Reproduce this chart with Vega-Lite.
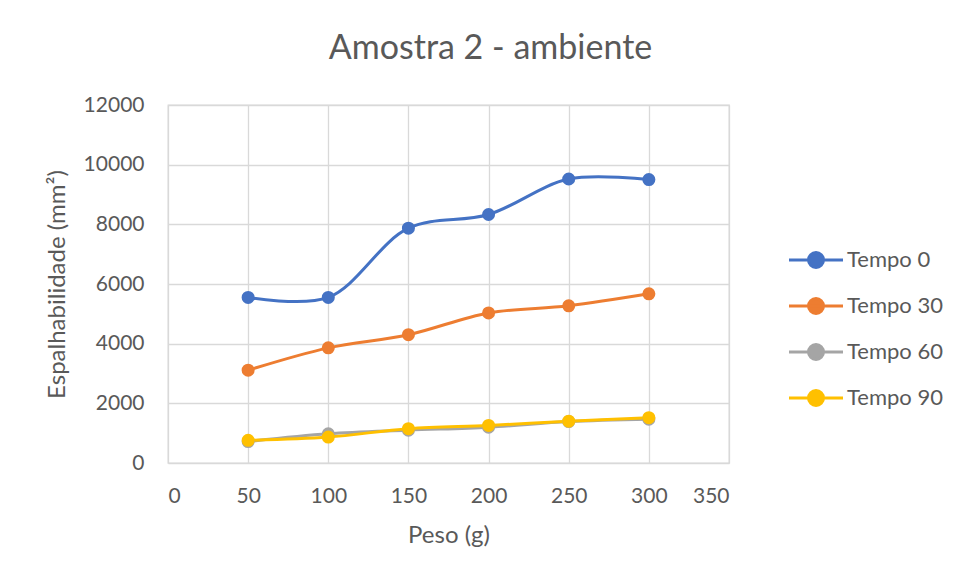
{
  "$schema": "https://vega.github.io/schema/vega-lite/v6.json",
  "autosize": "none",
  "width": 561,
  "height": 358,
  "padding": {"left": 168, "top": 105, "right": 232, "bottom": 116},
  "background": "white",
  "title": {
    "text": "Amostra 2 - ambiente",
    "fontSize": 34,
    "font": "Lato",
    "fontWeight": "normal",
    "color": "#595959",
    "anchor": "middle",
    "dx": 42,
    "offset": 28
  },
  "data": {
    "values": [
      {"peso": 50, "val": 5550, "serie": "Tempo 0"},
      {"peso": 100, "val": 5550, "serie": "Tempo 0"},
      {"peso": 150, "val": 7870, "serie": "Tempo 0"},
      {"peso": 200, "val": 8330, "serie": "Tempo 0"},
      {"peso": 250, "val": 9520, "serie": "Tempo 0"},
      {"peso": 300, "val": 9500, "serie": "Tempo 0"},
      {"peso": 50, "val": 3110, "serie": "Tempo 30"},
      {"peso": 100, "val": 3860, "serie": "Tempo 30"},
      {"peso": 150, "val": 4300, "serie": "Tempo 30"},
      {"peso": 200, "val": 5030, "serie": "Tempo 30"},
      {"peso": 250, "val": 5270, "serie": "Tempo 30"},
      {"peso": 300, "val": 5670, "serie": "Tempo 30"},
      {"peso": 50, "val": 720, "serie": "Tempo 60"},
      {"peso": 100, "val": 980, "serie": "Tempo 60"},
      {"peso": 150, "val": 1100, "serie": "Tempo 60"},
      {"peso": 200, "val": 1200, "serie": "Tempo 60"},
      {"peso": 250, "val": 1390, "serie": "Tempo 60"},
      {"peso": 300, "val": 1470, "serie": "Tempo 60"},
      {"peso": 50, "val": 760, "serie": "Tempo 90"},
      {"peso": 100, "val": 870, "serie": "Tempo 90"},
      {"peso": 150, "val": 1150, "serie": "Tempo 90"},
      {"peso": 200, "val": 1260, "serie": "Tempo 90"},
      {"peso": 250, "val": 1400, "serie": "Tempo 90"},
      {"peso": 300, "val": 1520, "serie": "Tempo 90"}
    ]
  },
  "encoding": {
    "x": {
      "field": "peso",
      "type": "quantitative",
      "scale": {"domain": [0, 350], "nice": false, "zero": true},
      "axis": {
        "title": "Peso (g)",
        "values": [0, 50, 100, 150, 200, 250, 300, 350],
        "ticks": false,
        "domain": false,
        "labelPadding": 22,
        "titlePadding": 17,
        "gridColor": "#d9d9d9",
        "gridWidth": 1.3
      }
    },
    "y": {
      "field": "val",
      "type": "quantitative",
      "scale": {"domain": [0, 12000], "nice": false},
      "axis": {
        "title": "Espalhabilidade (mm²)",
        "values": [0, 2000, 4000, 6000, 8000, 10000, 12000],
        "format": "d",
        "ticks": false,
        "domain": false,
        "labelPadding": 24,
        "titlePadding": 14,
        "gridColor": "#d9d9d9",
        "gridWidth": 1.3
      }
    },
    "color": {
      "field": "serie",
      "type": "nominal",
      "scale": {
        "domain": ["Tempo 0", "Tempo 30", "Tempo 60", "Tempo 90"],
        "range": ["#4472C4", "#ED7D31", "#A5A5A5", "#FFC000"]
      },
      "legend": {
        "title": null,
        "orient": "none",
        "legendX": 637,
        "legendY": 144,
        "symbolType": "M-5.4,0L5.4,0M1.5,0A1.5,1.5,0,1,1,-1.5,0A1.5,1.5,0,1,1,1.5,0Z",
        "symbolSize": 100,
        "labelOffset": 20,
        "rowPadding": 18,
        "labelFontSize": 22,
        "labelFont": "Lato",
        "labelColor": "#595959",
        "encode": {
          "symbols": {
            "update": {
              "stroke": {"scale": "color", "field": "value"},
              "fill": {"scale": "color", "field": "value"},
              "strokeWidth": {"value": 3},
              "opacity": {"value": 1}
            }
          }
        }
      }
    },
    "order": {"field": "serie"}
  },
  "layer": [
    {
      "mark": {"type": "line", "interpolate": "catmull-rom", "strokeWidth": 3}
    },
    {
      "mark": {"type": "point", "filled": true, "size": 170, "opacity": 1}
    }
  ],
  "config": {
    "view": {"stroke": "#d9d9d9", "strokeWidth": 1.3},
    "axis": {
      "labelFont": "Lato",
      "titleFont": "Lato",
      "labelFontSize": 21,
      "titleFontSize": 24,
      "titleFontWeight": "normal",
      "labelColor": "#595959",
      "titleColor": "#595959"
    }
  }
}
